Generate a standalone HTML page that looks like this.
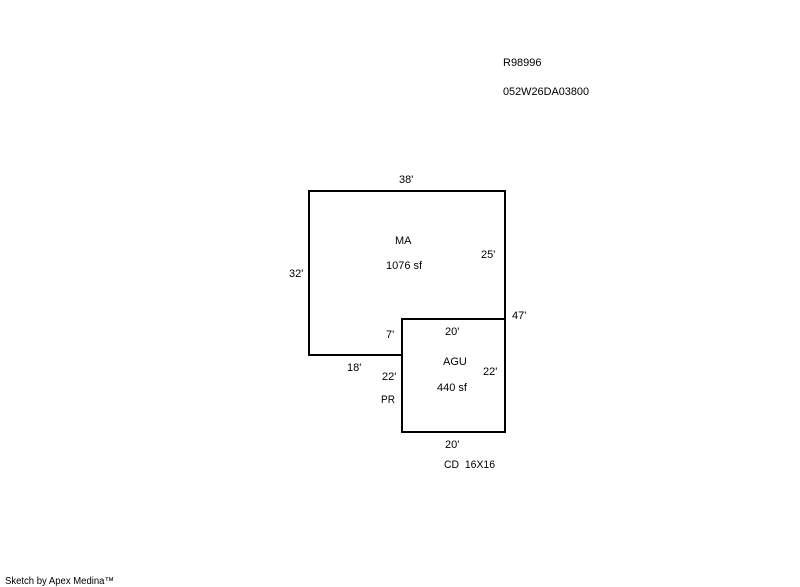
<!DOCTYPE html>
<html><head><meta charset="utf-8"><style>
html,body{margin:0;padding:0;background:#fff;width:800px;height:587px;overflow:hidden}
svg{display:block}
text{font-family:"Liberation Sans",Arial,sans-serif;font-size:11px;fill:#000}
</style></head><body>
<svg width="800" height="587" viewBox="0 0 800 587" xmlns="http://www.w3.org/2000/svg">
<g fill="#000" shape-rendering="crispEdges">
<rect x="308" y="190" width="198" height="2"/>
<rect x="308" y="190" width="2" height="166"/>
<rect x="504" y="190" width="2" height="243"/>
<rect x="308" y="354" width="95" height="2"/>
<rect x="401" y="318" width="105" height="2"/>
<rect x="401" y="318" width="2" height="115"/>
<rect x="401" y="431" width="105" height="2"/>
</g>
<text x="503" y="66">R98996</text>
<text x="503" y="95" textLength="86" lengthAdjust="spacingAndGlyphs">052W26DA03800</text>
<text x="399" y="183">38'</text>
<text x="395" y="244">MA</text>
<text x="386" y="269">1076 sf</text>
<text x="481" y="258">25'</text>
<text x="289" y="277">32'</text>
<text x="512" y="319">47'</text>
<text x="386" y="338">7'</text>
<text x="445" y="335">20'</text>
<text x="347" y="371">18'</text>
<text x="443" y="365">AGU</text>
<text x="483" y="375">22'</text>
<text x="382" y="380">22'</text>
<text x="437" y="391">440 sf</text>
<text x="381" y="403" textLength="14" lengthAdjust="spacingAndGlyphs">PR</text>
<text x="445" y="448">20'</text>
<text x="444" y="468" xml:space="preserve" textLength="51" lengthAdjust="spacingAndGlyphs">CD  16X16</text>
<text x="5" y="584" style="font-size:10px" textLength="109" lengthAdjust="spacingAndGlyphs">Sketch by Apex Medina™</text>
</svg>
</body></html>
